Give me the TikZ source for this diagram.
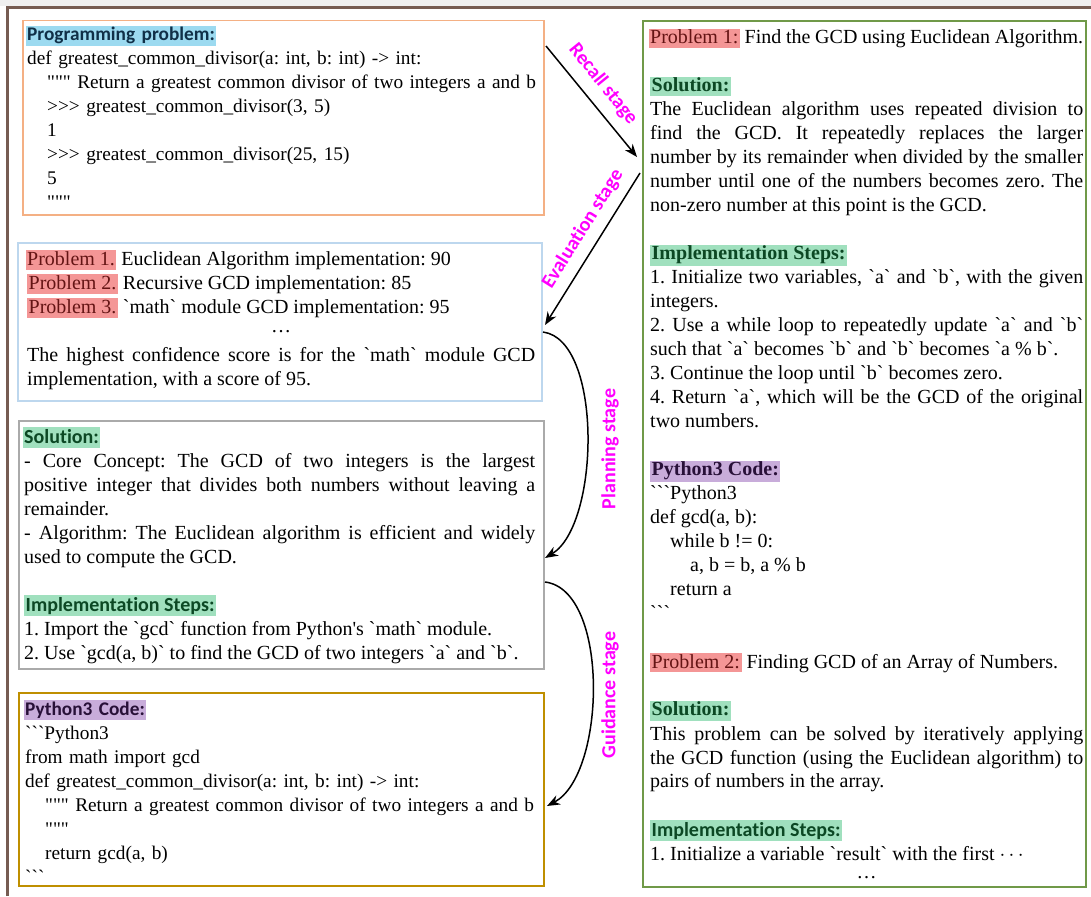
\documentclass[tikz,border=0pt]{standalone}
\usepackage{fontspec}
\newfontfamily\tnr{Liberation Serif}
\newfontfamily\cbr{Carlito}[Ligatures=NoCommon]
\usetikzlibrary{arrows.meta}
\definecolor{pbg}{RGB}{156,218,240}
\definecolor{pfg}{RGB}{16,48,72}
\definecolor{pkb}{RGB}{244,150,150}
\definecolor{pkf}{RGB}{100,20,20}
\definecolor{sgb}{RGB}{160,224,190}
\definecolor{sgf}{RGB}{12,72,36}
\definecolor{vb}{RGB}{200,172,218}
\definecolor{vf}{RGB}{40,16,56}
\definecolor{c1}{RGB}{244,176,132}
\definecolor{c2}{RGB}{189,215,238}
\definecolor{c3}{RGB}{170,170,170}
\definecolor{c4}{RGB}{191,143,0}
\definecolor{c5}{RGB}{112,153,72}
\definecolor{brn}{RGB}{118,92,82}
\definecolor{mag}{RGB}{255,0,255}
\setlength{\parindent}{0pt}
\tolerance=9999
\frenchspacing
\newcommand{\hl}[3]{{\fboxsep=1.5pt\kern-1.5pt\colorbox{#1}{\color{#2}\rule[-3pt]{0pt}{14.5pt}#3}}}
\newcommand{\ind}[1]{\hspace*{#1pt}}
\tikzstyle{box}=[draw,line width=1.5pt,inner sep=0pt,anchor=north west]
\tikzstyle{txt}=[inner sep=0pt,anchor=north west,font=\tnr\frenchspacing\fontsize{20}{24}\selectfont]
\tikzstyle{code}=[txt,text width=540pt,align=left,font=\tnr\frenchspacing\fontsize{19.3}{24}\selectfont]
\tikzstyle{stage}=[inner sep=0pt,text=mag,font=\cbr\bfseries\fontsize{20}{24}\selectfont]
\begin{document}
\begin{tikzpicture}[x=1pt,y=-1pt,>={Stealth[length=13pt,width=10pt]}]
\useasboundingbox (0,0) rectangle (1091,896);
\fill[gray!12] (0,0) rectangle (1091,6);
\draw[brn,line width=3pt] (7.5,896) -- (7.5,7.5) -- (1091,7.5);
\node[box,draw=c1,minimum width=521pt,minimum height=194pt] (pb) at (22,20) {};
\node[box,draw=c2,minimum width=524pt,minimum height=158pt] (ev) at (17,242) {};
\node[box,draw=c3,minimum width=525pt,minimum height=248pt] (sl) at (18,420) {};
\node[box,draw=c4,minimum width=525pt,minimum height=193pt] (cd) at (18,692) {};
\node[box,draw=c5,line width=2pt,minimum width=443pt,minimum height=866pt] (rt) at (642,20) {};
\node[code] (pbt) at (27,24) {\strut\hl{pbg}{pfg}{\cbr\bfseries Programming problem:}\\
def greatest\_common\_divisor(a: int, b: int) -> int:\\
\ind{20}""" Return a greatest common divisor of two integers a and b\\
\ind{20}>>> greatest\_common\_divisor(3, 5)\\
\ind{20}1\\
\ind{20}>>> greatest\_common\_divisor(25, 15)\\
\ind{20}5\\
\ind{20}"""};
\node[txt,text width=508pt,align=justify] (evt) at (27,248) {\strut\hl{pkb}{pkf}{Problem 1.} Euclidean Algorithm implementation: 90\\
\hl{pkb}{pkf}{Problem 2.} Recursive GCD implementation: 85\\
\hl{pkb}{pkf}{Problem 3.} `math` module GCD implementation: 95\\[-5pt]
\hspace*{\fill}\ldots\hspace*{\fill}\\[5pt]
The highest confidence score is for the `math` module GCD\linebreak
implementation, with a score of 95.};
\node[txt,text width=511pt,align=justify] (slt) at (24,426) {\strut\hl{sgb}{sgf}{\cbr\bfseries Solution:}\\
- Core Concept: The GCD of two integers is the largest\linebreak
positive integer that divides both numbers without leaving a\linebreak
remainder.\\
- Algorithm: The Euclidean algorithm is efficient and widely\linebreak
used to compute the GCD.\\[24pt]
\hl{sgb}{sgf}{\cbr\bfseries Implementation Steps:}\\
1. Import the `gcd` function from Python's `math` module.\\
2. Use `gcd(a, b)` to find the GCD of two integers `a` and `b`.};
\node[code] (cdt) at (25,698) {\strut\hl{vb}{vf}{\cbr\bfseries Python3 Code:}\\
```Python3\\
from math import gcd\\
def greatest\_common\_divisor(a: int, b: int) -> int:\\
\ind{20}""" Return a greatest common divisor of two integers a and b\\
\ind{20}"""\\
\ind{20}return gcd(a, b)\\
```};
\node[txt,text width=433pt,align=justify] (rtt) at (650,27) {\strut\hl{pkb}{pkf}{Problem 1:} Find the GCD using Euclidean Algorithm.\\[24pt]
\hl{sgb}{sgf}{\bfseries Solution:}\\
The Euclidean algorithm uses repeated division to\linebreak
find the GCD. It repeatedly replaces the larger\linebreak
number by its remainder when divided by the smaller\linebreak
number until one of the numbers becomes zero. The\linebreak
non-zero number at this point is the GCD.\\[24pt]
\hl{sgb}{sgf}{\bfseries Implementation Steps:}\\
1. Initialize two variables, `a` and `b`, with the given\linebreak
integers.\\
2. Use a while loop to repeatedly update `a` and `b`\linebreak
such that `a` becomes `b` and `b` becomes `a \% b`.\\
3. Continue the loop until `b` becomes zero.\\
4. Return `a`, which will be the GCD of the original\linebreak
two numbers.\\[24pt]
\hl{vb}{vf}{\bfseries Python3 Code:}\\
```Python3\\
def gcd(a, b):\\
\ind{20}while b != 0:\\
\ind{40}a, b = b, a \% b\\
\ind{20}return a\\
```\\[24pt]
\hl{pkb}{pkf}{Problem 2:} Finding GCD of an Array of Numbers.\\[24pt]
\hl{sgb}{sgf}{\bfseries Solution:}\\
This problem can be solved by iteratively applying\linebreak
the GCD function (using the Euclidean algorithm) to\linebreak
pairs of numbers in the array.\\[24pt]
\hl{sgb}{sgf}{\cbr\bfseries Implementation Steps:}\\
1. Initialize a variable `result` with the first $\cdots$\\[-6pt]
\hspace*{\fill}\ldots\hspace*{\fill}\null};
\coordinate (a1) at (546,46);
\coordinate (a2) at (637,157);
\coordinate (a3) at (640,173);
\coordinate (a4) at (545,325);
\coordinate (a5) at (543,332);
\coordinate (a6) at (545,558);
\coordinate (a7) at (545,582);
\coordinate (a8) at (547,806);
\draw[->,line width=1.5pt] (a1) -- (a2);
\draw[->,line width=1.5pt] (a3) -- (a4);
\draw[->,line width=1.5pt] (a5) .. controls (603,340) and (600,525) .. (a6);
\draw[->,line width=1.5pt] (a7) .. controls (610,590) and (606,775) .. (a8);
\node[stage,rotate=-51] (rs) at (603,84) {Recall stage};
\node[stage,rotate=58] (es) at (583,229) {Evaluation stage};
\node[stage,rotate=90] (ps) at (610,449) {Planning stage};
\node[stage,rotate=90] (gs) at (610,695) {Guidance stage};
\end{tikzpicture}
\end{document}
